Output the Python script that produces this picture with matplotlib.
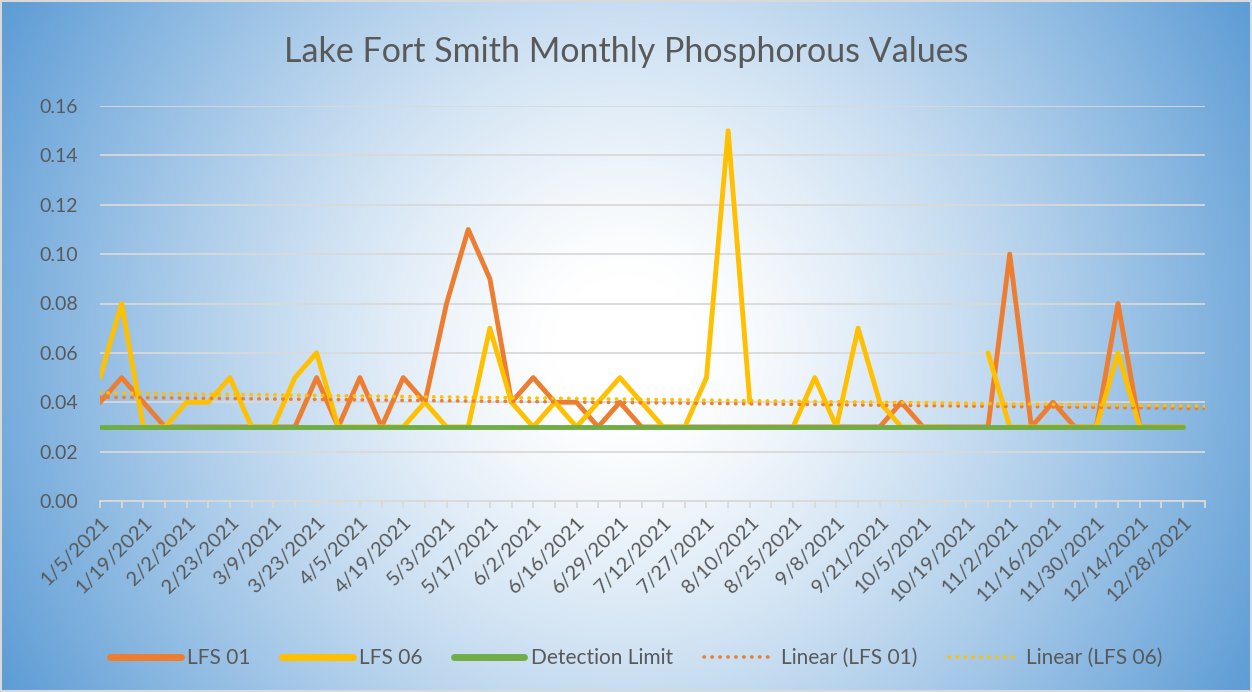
import numpy as np
import matplotlib
matplotlib.use("Agg")
import matplotlib.pyplot as plt
from matplotlib.patches import Rectangle

# ---------------- data ----------------
dates = ["1/5/2021", "1/12/2021", "1/19/2021", "1/26/2021", "2/2/2021", "2/16/2021",
         "2/23/2021", "3/2/2021", "3/9/2021", "3/16/2021", "3/23/2021", "3/30/2021",
         "4/5/2021", "4/12/2021", "4/19/2021", "4/26/2021", "5/3/2021", "5/10/2021",
         "5/17/2021", "5/25/2021", "6/2/2021", "6/9/2021", "6/16/2021", "6/22/2021",
         "6/29/2021", "7/6/2021", "7/12/2021", "7/20/2021", "7/27/2021", "8/3/2021",
         "8/10/2021", "8/17/2021", "8/25/2021", "9/1/2021", "9/8/2021", "9/14/2021",
         "9/21/2021", "9/28/2021", "10/5/2021", "10/12/2021", "10/19/2021", "10/26/2021",
         "11/2/2021", "11/9/2021", "11/16/2021", "11/23/2021", "11/30/2021", "12/7/2021",
         "12/14/2021", "12/21/2021", "12/28/2021", ""]

nan = np.nan
lfs01 = [0.04, 0.05, 0.04, 0.03, 0.03, 0.03, 0.03, 0.03, 0.03, 0.03, 0.05, 0.03,
         0.05, 0.03, 0.05, 0.04, 0.08, 0.11, 0.09, 0.04, 0.05, 0.04, 0.04, 0.03,
         0.04, 0.03, 0.03, 0.03, 0.03, 0.03, 0.03, 0.03, 0.03, 0.03, 0.03, 0.03,
         0.03, 0.04, 0.03, 0.03, 0.03, 0.03, 0.10, 0.03, 0.04, 0.03, 0.03, 0.08,
         0.03, 0.03, 0.03, nan]
lfs06 = [0.05, 0.08, 0.03, 0.03, 0.04, 0.04, 0.05, 0.03, 0.03, 0.05, 0.06, 0.03,
         0.03, 0.03, 0.03, 0.04, 0.03, 0.03, 0.07, 0.04, 0.03, 0.04, 0.03, 0.04,
         0.05, 0.04, 0.03, 0.03, 0.05, 0.15, 0.04, nan, 0.03, 0.05, 0.03, 0.07,
         0.04, 0.03, 0.03, 0.03, nan, 0.06, 0.03, 0.03, 0.03, 0.03, 0.03, 0.06,
         0.03, 0.03, 0.03, nan]
detection = [0.03] * 51 + [nan]

series_names = ["LFS 01", "LFS 06", "Detection Limit", "Linear (LFS 01)", "Linear (LFS 06)"]
title = "Lake Fort Smith Monthly Phosphorous Values"
yticks = [0.00, 0.02, 0.04, 0.06, 0.08, 0.10, 0.12, 0.14, 0.16]

# ---------------- style ----------------
C_ORANGE = "#ED7D31"
C_YELLOW = "#FFC000"
C_GREEN = "#70AD47"
C_TEXT = "#595959"
C_GRID = "#D9D9D9"
FONT = "Lato"

W, H = 1252, 692
fig = plt.figure(figsize=(W / 100, H / 100), dpi=100)

# background radial gradient
bg = fig.add_axes([0, 0, 1, 1], zorder=-10)
yy, xx = np.mgrid[0:H, 0:W]
cx, cy = W * 0.5, H * 0.5
r = np.sqrt((xx - cx) ** 2 + (yy - cy) ** 2) / np.sqrt(cx ** 2 + cy ** 2)
t = np.clip((r - 0.1) / 0.9, 0, 1) ** 1.25
white = np.array([255, 255, 255]) / 255.0
blue = np.array([91, 155, 213]) / 255.0
img = white[None, None, :] * (1 - t[..., None]) + blue[None, None, :] * t[..., None]
bg.imshow(img, aspect="auto", extent=[0, 1, 0, 1], origin="upper")
bg.set_axis_off()
bg.add_patch(Rectangle((0.001, 0.001), 0.998, 0.997, transform=bg.transAxes,
                       fill=False, edgecolor="#D9D9D9", lw=1.5))

x = np.arange(len(dates))
left = 100 / W
right = (100 + 21.66 * 51) / W
bottom = 1 - 501 / H
top = 1 - 106 / H
ax = fig.add_axes([left, bottom, right - left, top - bottom])
ax.patch.set_alpha(0)

lw = 3.5
ax.plot(x, lfs01, color=C_ORANGE, lw=lw, solid_joinstyle="round",
        solid_capstyle="round", label=series_names[0], zorder=3)
ax.plot(x, lfs06, color=C_YELLOW, lw=lw, solid_joinstyle="round",
        solid_capstyle="round", label=series_names[1], zorder=4)
ax.plot(x, detection, color=C_GREEN, lw=lw, solid_joinstyle="round",
        solid_capstyle="round", label=series_names[2], zorder=5)

for vals, col, name in [(lfs01, C_ORANGE, series_names[3]), (lfs06, C_YELLOW, series_names[4])]:
    v = np.array(vals, dtype=float)
    m = ~np.isnan(v)
    k, b = np.polyfit(x[m], v[m], 1)
    xt = np.array([0, len(dates) - 1])
    ax.plot(xt, k * xt + b, color=col, lw=2.6, linestyle=(0, (0.1, 2.1)),
            dash_capstyle="round", label=name, zorder=6)

ax.set_xlim(0, len(dates) - 1)
ax.set_ylim(0, 0.16)
ax.set_yticks(yticks)
ax.set_yticklabels([f"{v:.2f}" for v in yticks])
ax.yaxis.grid(True, color=C_GRID, lw=1.3)
ax.set_axisbelow(True)

ax.set_xticks(x)
ax.set_xticklabels([d if i % 2 == 0 else "" for i, d in enumerate(dates)],
                   rotation=45, ha="right", rotation_mode="anchor")
for s in ["top", "right", "left"]:
    ax.spines[s].set_visible(False)
ax.spines["bottom"].set_color(C_GRID)
ax.spines["bottom"].set_linewidth(1.3)
ax.tick_params(axis="x", colors=C_GRID, length=5, width=1.3, pad=4,
               labelcolor=C_TEXT, labelsize=14.5)
ax.tick_params(axis="y", length=0, pad=16, labelcolor=C_TEXT, labelsize=14)
for lab in ax.get_xticklabels() + ax.get_yticklabels():
    lab.set_fontfamily(FONT)

fig.text(0.5, 1 - 52 / H, title, ha="center", va="center", fontsize=24.5,
         color=C_TEXT, fontfamily=FONT)

handles, labels = ax.get_legend_handles_labels()
leg = fig.legend(handles, labels, loc="center", bbox_to_anchor=(0.508, 1 - 658 / H),
                 ncol=5, frameon=False, handlelength=3.4, handletextpad=0.3,
                 columnspacing=1.5, prop={"family": FONT, "size": 15})
for txt in leg.get_texts():
    txt.set_color(C_TEXT)
for h in leg.get_lines()[:3]:
    h.set_linewidth(5)

fig.savefig("out.png", dpi=100)
